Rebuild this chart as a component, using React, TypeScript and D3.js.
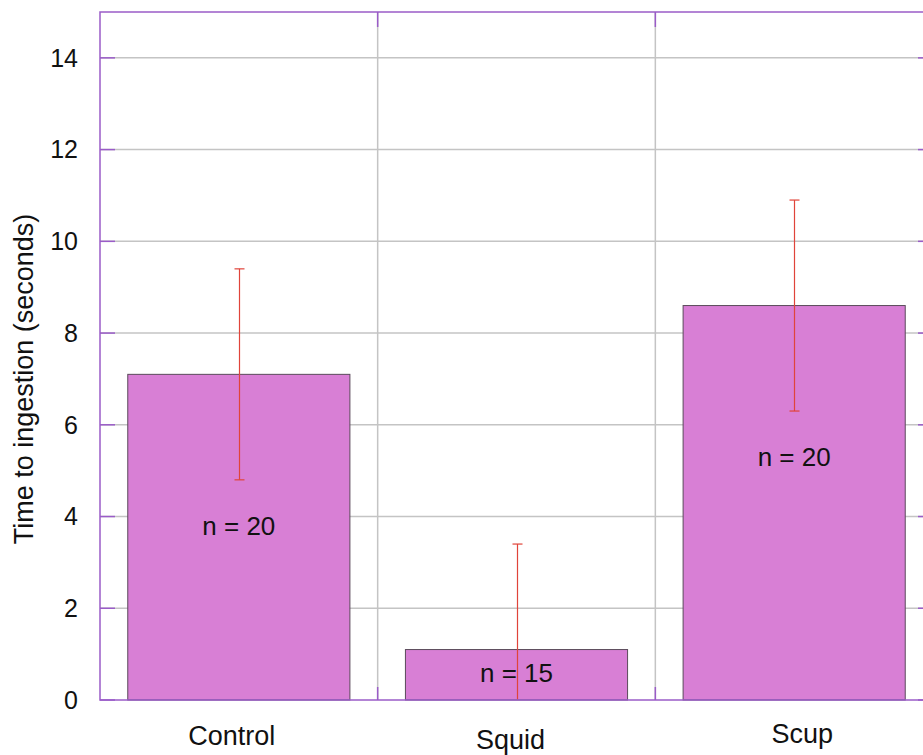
import React from "react";
import * as d3 from "d3";

const categories = ["Control", "Squid", "Scup"];
const means = [7.1, 1.1, 8.6];
const errors = [2.3, 2.3, 2.3];
const nLabels = ["n = 20", "n = 15", "n = 20"];
const nLabelY = [3.8, 0.6, 5.3];
const yTicks = [0, 2, 4, 6, 8, 10, 12, 14];

const W = 923;
const H = 755;
const left = 100;
const right = 933;
const top = 12;
const bottom = 700;

// small label offsets observed in the reference
const catDx = [-7, -6, 8];
const catDy = [745, 749, 743];

const PURPLE = "#9a5cc8";
const GRID = "#c4c4c4";
const FILL = "#d87fd5";
const RED = "#e0443a";
const FONT = "'Liberation Sans', Arial, sans-serif";

export default function App() {
  const x = d3.scaleLinear().domain([-0.5, 2.5]).range([left, right]);
  const y = d3.scaleLinear().domain([0, 15]).range([bottom, top]);
  const bw = (x(1) - x(0)) * 0.8;
  const vGrid = [0.5, 1.5];

  return (
    <svg
      width={W}
      height={H}
      style={{ position: "absolute", left: 0, top: 0, background: "#fff" }}
      fontFamily={FONT}
    >
      <defs>
        <clipPath id="plot">
          <rect x={left} y={top} width={right - left} height={bottom - top} />
        </clipPath>
      </defs>
      {/* grid */}
      {yTicks.filter((t) => t > 0).map((t) => (
        <line key={"hg" + t} x1={left} x2={right} y1={y(t)} y2={y(t)} stroke={GRID} strokeWidth={1.5} />
      ))}
      {vGrid.map((v) => (
        <line key={"vg" + v} x1={x(v)} x2={x(v)} y1={top} y2={bottom} stroke={GRID} strokeWidth={1.5} />
      ))}
      {/* bars */}
      {means.map((m, i) => (
        <rect
          key={"b" + i}
          x={x(i) - bw / 2}
          y={y(m)}
          width={bw}
          height={y(0) - y(m)}
          fill={FILL}
          stroke="#5a4a5a"
          strokeWidth={1}
        />
      ))}
      {/* error bars */}
      <g clipPath="url(#plot)">
        {means.map((m, i) => {
          const hi = m + errors[i];
          const lo = m - errors[i];
          const cx = Math.round(x(i)) + 0.5;
          return (
            <g key={"e" + i} stroke={RED} strokeWidth={1.2}>
              <line x1={cx} x2={cx} y1={y(hi)} y2={y(Math.max(lo, -1))} />
              <line x1={cx - 5} x2={cx + 5} y1={y(hi)} y2={y(hi)} />
              {lo >= 0 && <line x1={cx - 5} x2={cx + 5} y1={y(lo)} y2={y(lo)} />}
            </g>
          );
        })}
      </g>
      {/* n labels */}
      {nLabels.map((t, i) => (
        <text
          key={"n" + i}
          x={x(i)}
          y={y(nLabelY[i])}
          dy="0.35em"
          textAnchor="middle"
          fontSize={26}
          fill="#111"
        >
          {t}
        </text>
      ))}
      {/* border */}
      <rect x={left} y={top} width={right - left} height={bottom - top} fill="none" stroke={PURPLE} strokeWidth={1.5} />
      {/* ticks */}
      {yTicks.map((t) => (
        <g key={"yt" + t} stroke={PURPLE} strokeWidth={1.5}>
          <line x1={left} x2={left + 15} y1={y(t)} y2={y(t)} />
          <line x1={right - 15} x2={right} y1={y(t)} y2={y(t)} />
        </g>
      ))}
      {vGrid.map((v) => (
        <g key={"xt" + v} stroke={PURPLE} strokeWidth={1.5}>
          <line x1={x(v)} x2={x(v)} y1={top} y2={top + 15} />
          <line x1={x(v)} x2={x(v)} y1={bottom - 13} y2={bottom} />
        </g>
      ))}
      {/* y tick labels */}
      {yTicks.map((t) => (
        <text key={"yl" + t} x={78} y={y(t)} dy="0.35em" textAnchor="end" fontSize={25} fill="#111">
          {t}
        </text>
      ))}
      {/* category labels */}
      {categories.map((c, i) => (
        <text key={"c" + i} x={x(i) + catDx[i]} y={catDy[i]} textAnchor="middle" fontSize={27} fill="#111">
          {c}
        </text>
      ))}
      {/* y axis label */}
      <text
        transform={`translate(33, ${(top + bottom) / 2 + 23}) rotate(-90)`}
        textAnchor="middle"
        fontSize={27}
        fill="#111"
      >
        Time to ingestion (seconds)
      </text>
    </svg>
  );
}
